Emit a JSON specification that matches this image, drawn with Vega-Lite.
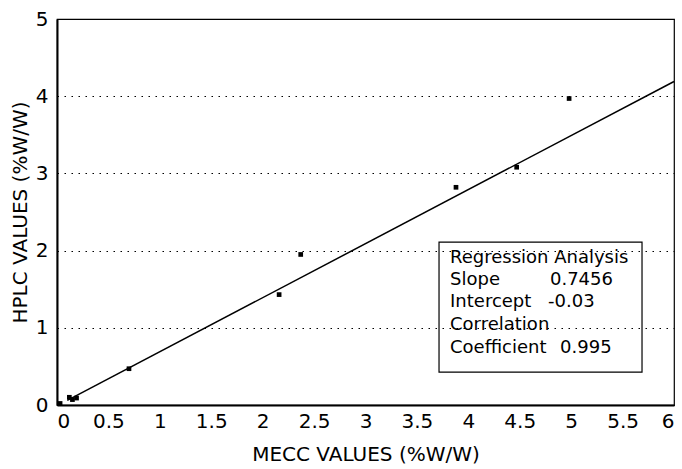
{
  "$schema": "https://vega.github.io/schema/vega-lite/v6.json",
  "width": 617,
  "height": 386,
  "autosize": "none",
  "padding": {"left": 57, "top": 19, "right": 8, "bottom": 64},
  "background": "white",
  "config": {
    "font": "DejaVu Sans",
    "view": {"stroke": "black", "strokeWidth": 1.2}
  },
  "datasets": {
    "points": [
      {"mecc": 0.03, "hplc": 0.02},
      {"mecc": 0.12, "hplc": 0.1},
      {"mecc": 0.15, "hplc": 0.07},
      {"mecc": 0.19, "hplc": 0.09},
      {"mecc": 0.7, "hplc": 0.47},
      {"mecc": 2.16, "hplc": 1.43},
      {"mecc": 2.37, "hplc": 1.95},
      {"mecc": 3.88, "hplc": 2.82},
      {"mecc": 4.47, "hplc": 3.08},
      {"mecc": 4.98, "hplc": 3.97}
    ],
    "fit": [
      {"mecc": 0.1, "hplc": 0.06},
      {"mecc": 6.0, "hplc": 4.19}
    ],
    "box": [
      {"left": 3.715, "right": 5.689, "bottom": 0.427, "top": 2.111}
    ],
    "labels": [
      {"mecc": 3.822, "hplc": 1.839, "text": "Regression Analysis"},
      {"mecc": 3.822, "hplc": 1.554, "text": "Slope"},
      {"mecc": 4.794, "hplc": 1.554, "text": "0.7456"},
      {"mecc": 3.822, "hplc": 1.269, "text": "Intercept"},
      {"mecc": 4.775, "hplc": 1.269, "text": "-0.03"},
      {"mecc": 3.822, "hplc": 0.971, "text": "Correlation"},
      {"mecc": 3.822, "hplc": 0.674, "text": "Coefficient"},
      {"mecc": 4.892, "hplc": 0.674, "text": "0.995"}
    ]
  },
  "layer": [
    {
      "data": {"name": "box"},
      "mark": {"type": "rect", "fill": null, "fillOpacity": 0, "stroke": "black", "strokeWidth": 1.2},
      "encoding": {
        "x": {
          "field": "left", "type": "quantitative",
          "scale": {"domain": [0, 6], "nice": false},
          "axis": {
            "title": "MECC VALUES (%W/W)",
            "values": [0, 0.5, 1, 1.5, 2, 2.5, 3, 3.5, 4, 4.5, 5, 5.5, 6],
            "format": "~g",
            "grid": false,
            "domainColor": "black", "domainWidth": 2,
            "ticks": false,
            "labelFontSize": 20, "labelColor": "black", "labelPadding": 6,
            "titleFontSize": 20, "titleFontWeight": "normal", "titleColor": "black", "titlePadding": 13
          }
        },
        "x2": {"field": "right"},
        "y": {
          "field": "bottom", "type": "quantitative",
          "scale": {"domain": [0, 5], "nice": false},
          "axis": {
            "title": "HPLC VALUES (%W/W)",
            "values": [0, 1, 2, 3, 4, 5],
            "format": "~g",
            "grid": true,
            "gridColor": "black", "gridDash": [1.5, 5.5], "gridWidth": 1.2,
            "domainColor": "black", "domainWidth": 2,
            "ticks": false,
            "labelFontSize": 20, "labelColor": "black", "labelPadding": 9,
            "titleFontSize": 20, "titleFontWeight": "normal", "titleColor": "black", "titlePadding": 5
          }
        },
        "y2": {"field": "top"}
      }
    },
    {
      "data": {"name": "fit"},
      "mark": {"type": "line", "color": "black", "strokeWidth": 1.5},
      "encoding": {
        "x": {"field": "mecc", "type": "quantitative"},
        "y": {"field": "hplc", "type": "quantitative"}
      }
    },
    {
      "data": {"name": "points"},
      "mark": {"type": "point", "shape": "square", "filled": true, "color": "black", "size": 22, "opacity": 1},
      "encoding": {
        "x": {"field": "mecc", "type": "quantitative"},
        "y": {"field": "hplc", "type": "quantitative"}
      }
    },
    {
      "data": {"name": "labels"},
      "mark": {"type": "text", "align": "left", "baseline": "alphabetic", "fontSize": 18, "color": "black"},
      "encoding": {
        "x": {"field": "mecc", "type": "quantitative"},
        "y": {"field": "hplc", "type": "quantitative"},
        "text": {"field": "text"}
      }
    }
  ]
}
